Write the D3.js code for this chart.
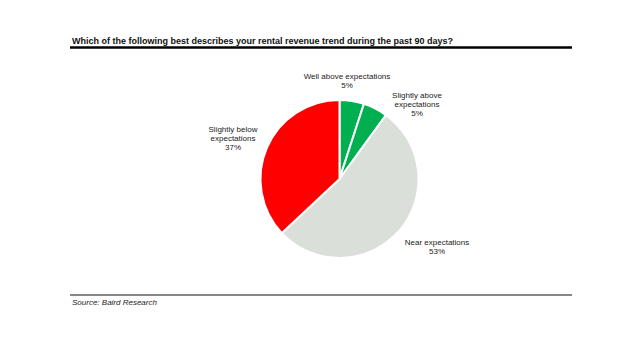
<!DOCTYPE html>
<html><head><meta charset="utf-8">
<script src="https://cdn.jsdelivr.net/npm/d3@7"></script>
<style>body{margin:0;background:#fff}svg{display:block}text{font-family:"Liberation Sans",Arial,sans-serif}</style>
</head><body>
<script>
const categories = ["Well above expectations","Slightly above expectations","Near expectations","Slightly below expectations"];
const values = [5, 5, 53, 37];
const labelLines = [["Well above expectations","5%"],["Slightly above","expectations","5%"],["Near expectations","53%"],["Slightly below","expectations","37%"]];
const colors = ["#00b050","#00b050","#dadfda","#ff0000"];
const title = "Which of the following best describes your rental revenue trend during the past 90 days?";
const source = "Source: Baird Research";

const W=640,H=360;
const svg=d3.select("body").append("svg").attr("width",W).attr("height",H);
svg.append("text").attr("x",72).attr("y",44).attr("font-size",9).attr("font-weight","bold").attr("fill","#111").text(title);
svg.append("line").attr("x1",70).attr("x2",572).attr("y1",47.5).attr("y2",47.5).attr("stroke","#000").attr("stroke-width",2.5);
svg.append("line").attr("x1",70).attr("x2",572).attr("y1",295).attr("y2",295).attr("stroke","#111").attr("stroke-width",1.2);
svg.append("text").attr("x",72).attr("y",305).attr("font-size",8).attr("font-style","italic").attr("fill","#222").text(source);

const cx=339.5, cy=179, r=79;
const pie=d3.pie().sort(null).value(d=>d)(values);
const arc=d3.arc().innerRadius(0).outerRadius(r);
const g=svg.append("g").attr("transform",`translate(${cx},${cy})`);
g.selectAll("path").data(pie).join("path").attr("d",arc)
  .attr("fill",(d,i)=>colors[i]).attr("stroke","#fff").attr("stroke-width",2).attr("stroke-linejoin","round");

// label anchors (centers) relative to pie center, in chart px
const labelPos=[[347,79],[417,98],[437,245],[233,132]];
labelLines.forEach((lines,i)=>{
  const t=svg.append("text").attr("text-anchor","middle").attr("font-size",8).attr("fill","#222");
  lines.forEach((s,j)=>t.append("tspan").attr("x",labelPos[i][0]).attr("y",labelPos[i][1]+j*9).text(s));
});
</script>
</body></html>
